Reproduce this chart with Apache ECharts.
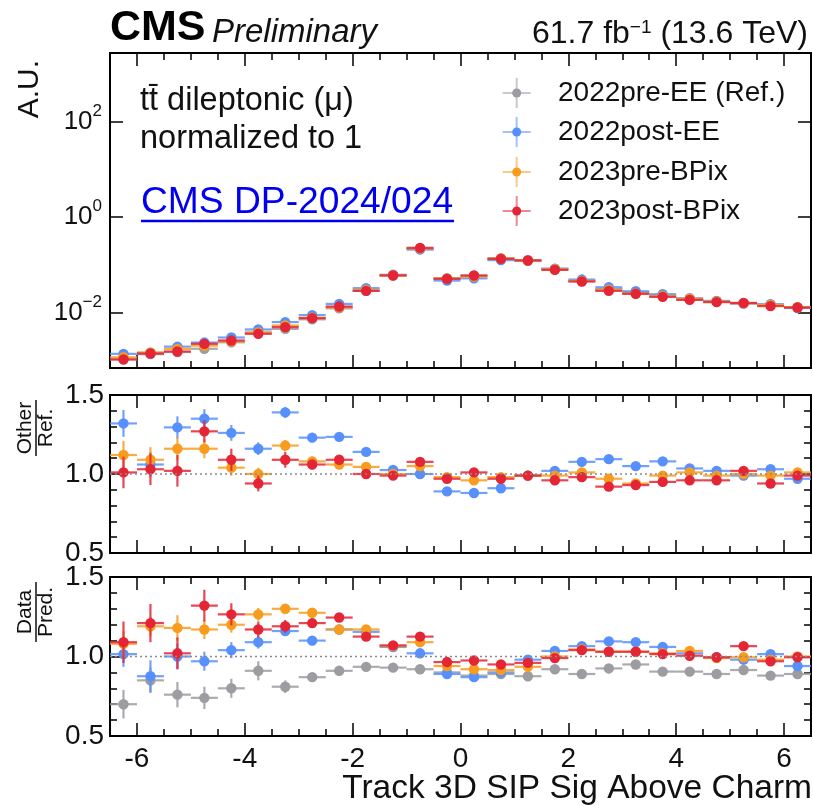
<!DOCTYPE html>
<html><head><meta charset="utf-8">
<script src="https://cdn.jsdelivr.net/npm/echarts@6/dist/echarts.min.js"></script>
<style>html,body{margin:0;padding:0;background:#fff}#c{width:813px;height:806px}</style>
</head><body><div id="c"></div><script>
const FONT = 'Liberation Sans, Arial, Helvetica, sans-serif';

// ---------------- data ----------------
const binCenters = [-6.25,-5.75,-5.25,-4.75,-4.25,-3.75,-3.25,-2.75,-2.25,-1.75,-1.25,-0.75,-0.25,
                    0.25,0.75,1.25,1.75,2.25,2.75,3.25,3.75,4.25,4.75,5.25,5.75,6.25];
const seriesNames = ['2022pre-EE (Ref.)','2022post-EE','2023pre-BPix','2023post-BPix'];
const colors = ['#9c9ca1','#5790fc','#f89c20','#e42536'];

// top panel: normalized distributions
const topRef    = [0.00104,0.00135,0.00150,0.00175,0.00239,0.00383,0.00456,0.00723,0.0123,0.0286,0.0606,0.212,0.0527,0.0594,0.138,0.125,0.0820,0.0458,0.0311,0.0267,0.0225,0.0193,0.0173,0.0157,0.0146,0.0129];
const topPostEE = [0.00137,0.00143,0.00194,0.00236,0.00301,0.00444,0.00634,0.00889,0.0152,0.0326,0.0621,0.212,0.0469,0.0523,0.126,0.124,0.0836,0.0493,0.0340,0.0280,0.0243,0.0200,0.0176,0.0155,0.0150,0.0125];
const topPreBPix= [0.00116,0.00147,0.00174,0.00203,0.00249,0.00383,0.00538,0.00781,0.0130,0.0299,0.0606,0.223,0.0516,0.0570,0.135,0.124,0.0812,0.0463,0.0302,0.0251,0.0223,0.0195,0.0171,0.0157,0.0145,0.0130];
const topPostBPix=[0.00105,0.00139,0.00153,0.00222,0.00261,0.00360,0.00497,0.00766,0.0134,0.0286,0.0600,0.228,0.0511,0.0600,0.134,0.124,0.0787,0.0449,0.0286,0.0248,0.0214,0.0185,0.0166,0.0160,0.0137,0.0128];

// middle panel: Other / Ref.
const midPostEE   = [1.32,1.06,1.295,1.35,1.26,1.16,1.39,1.23,1.235,1.14,1.025,1.0,0.89,0.88,0.91,0.99,1.02,1.077,1.094,1.05,1.08,1.035,1.02,0.99,1.03,0.97];
const midPreBPix  = [1.12,1.09,1.16,1.16,1.04,1.00,1.18,1.08,1.06,1.045,1.0,1.05,0.98,0.96,0.98,0.99,0.99,1.01,0.97,0.94,0.99,1.01,0.99,1.0,0.99,1.01];
const midPostBPix = [1.01,1.03,1.02,1.27,1.09,0.94,1.09,1.06,1.09,1.00,0.99,1.077,0.97,1.01,0.97,0.99,0.96,0.98,0.92,0.93,0.95,0.96,0.96,1.02,0.94,0.99];
const midErrPostEE   = [0.085,0.08,0.07,0.06,0.05,0.04,0.035,0.03,0.025,0.02,0.015,0.012,0.01,0.01,0.01,0.01,0.01,0.01,0.01,0.01,0.01,0.01,0.01,0.01,0.01,0.01];
const midErrPreBPix  = [0.09,0.08,0.07,0.06,0.05,0.04,0.035,0.03,0.025,0.02,0.015,0.012,0.01,0.01,0.01,0.01,0.01,0.01,0.01,0.01,0.01,0.01,0.01,0.01,0.01,0.01];
const midErrPostBPix = [0.1,0.1,0.1,0.07,0.07,0.05,0.05,0.03,0.03,0.02,0.02,0.015,0.012,0.012,0.012,0.012,0.012,0.012,0.012,0.012,0.012,0.012,0.012,0.012,0.012,0.012];

// bottom panel: Data / Pred.
const botRef      = [0.70,0.85,0.76,0.74,0.80,0.91,0.81,0.87,0.91,0.935,0.93,0.92,0.90,0.88,0.89,0.876,0.92,0.89,0.925,0.95,0.905,0.905,0.89,0.915,0.88,0.89];
const botPostEE   = [1.015,0.876,1.0,0.97,1.04,1.09,1.16,1.10,1.17,1.155,1.06,1.02,0.89,0.87,0.90,0.98,1.035,1.065,1.095,1.09,1.06,1.02,0.995,0.98,1.015,0.94];
const botPreBPix  = [1.08,1.19,1.18,1.17,1.20,1.265,1.30,1.275,1.17,1.17,1.065,1.09,0.94,0.92,0.915,0.935,1.0,1.045,1.03,1.03,1.02,1.035,0.99,0.995,0.98,1.0];
const botPostBPix = [1.09,1.21,1.02,1.32,1.265,1.17,1.19,1.21,1.245,1.125,1.07,1.125,0.965,0.975,0.95,0.96,0.99,1.04,1.03,1.03,1.015,1.005,0.995,1.065,0.97,0.995];
const botErrRef      = [0.09,0.08,0.08,0.07,0.06,0.06,0.04,0.03,0.03,0.02,0.02,0.02,0.02,0.015,0.015,0.015,0.015,0.015,0.015,0.015,0.015,0.015,0.015,0.015,0.015,0.015];
const botErrPostEE   = [0.08,0.1,0.08,0.06,0.05,0.04,0.03,0.025,0.02,0.02,0.015,0.015,0.012,0.012,0.012,0.012,0.012,0.012,0.012,0.012,0.012,0.012,0.012,0.012,0.012,0.012];
const botErrPreBPix  = [0.08,0.06,0.08,0.06,0.05,0.04,0.03,0.025,0.02,0.02,0.015,0.015,0.012,0.012,0.012,0.012,0.012,0.012,0.012,0.012,0.012,0.012,0.012,0.012,0.012,0.012];
const botErrPostBPix = [0.13,0.12,0.1,0.1,0.07,0.05,0.04,0.03,0.025,0.02,0.02,0.015,0.015,0.015,0.015,0.015,0.015,0.015,0.015,0.015,0.015,0.015,0.015,0.015,0.015,0.015];

// ticks
const xMajorTicks = [-6,-4,-2,0,2,4,6];
const xMinorTicks = [-6,-5.5,-5,-4.5,-4,-3.5,-3,-2.5,-2,-1.5,-1,-0.5,0,0.5,1,1.5,2,2.5,3,3.5,4,4.5,5,5.5,6];
const topYTicks = [-2,0,2];          // exponents of 10
const ratioMajorTicks = [0.5,1.0,1.5];
const ratioMinorTicks = [0.6,0.7,0.8,0.9,1.1,1.2,1.3,1.4];

// ---------------- layout ----------------
const grids = [
  {left:110, top:53,  width:701, height:315},
  {left:110, top:395, width:701, height:158},
  {left:110, top:577, width:701, height:159}
].map(g => Object.assign(g, {show:true, borderColor:'#000', borderWidth:2, backgroundColor:'transparent', outerBoundsMode:'none'}));

const tickStyle = {color:'#000', width:1.5};
function xAxesFor(gi){
  const base = {gridIndex:gi, type:'value', min:-6.5, max:6.5, axisLine:{show:false, onZero:false}, splitLine:{show:false}};
  const mk = (pos, len, vals, lbl) => Object.assign({}, base, {
    position:pos,
    axisTick:{show:true, inside:true, length:len, customValues:vals, lineStyle:tickStyle},
    axisLabel: lbl ? {show:true, customValues:xMajorTicks, fontSize:28, color:'#111', fontFamily:FONT, margin:9,
                      formatter: v => (v < 0 ? '-' + (-v) : String(v))} : {show:false}
  });
  return [mk('bottom',13,xMajorTicks, gi===2), mk('bottom',7,xMinorTicks,false), mk('top',13,xMajorTicks,false), mk('top',7,xMinorTicks,false)];
}
function yAxesFor(gi, min, max, major, minor, label){
  const base = {gridIndex:gi, type:'value', min:min, max:max, axisLine:{show:false, onZero:false}, splitLine:{show:false}};
  const mk = (pos, len, vals, lbl) => Object.assign({}, base, {
    position:pos,
    axisTick:{show:vals.length>0, inside:true, length:len, customValues:vals.length?vals:undefined, lineStyle:tickStyle},
    axisLabel: lbl ? Object.assign({show:true, customValues:major, color:'#111', fontFamily:FONT}, label) : {show:false}
  });
  return [mk('left',13,major,true), mk('left',7,minor,false), mk('right',13,major,false), mk('right',7,minor,false)];
}

const xAxes = [].concat(xAxesFor(0), xAxesFor(1), xAxesFor(2));
const yAxes = [].concat(
  yAxesFor(0, -3.16, 3.44, topYTicks, [], {
    margin:8,
    formatter: v => { const e = Math.round(v); return '{b|10}{s|' + (e < 0 ? '\u2212' + (-e) : e) + '}'; },
    rich:{ b:{fontSize:26, fontFamily:FONT, color:'#111', lineHeight:38}, s:{fontSize:17, fontFamily:FONT, color:'#111', verticalAlign:'top', lineHeight:20} }
  }),
  yAxesFor(1, 0.5, 1.5, ratioMajorTicks, ratioMinorTicks, {fontSize:28, margin:6, formatter: v => v.toFixed(1)}),
  yAxesFor(2, 0.5, 1.5, ratioMajorTicks, ratioMinorTicks, {fontSize:28, margin:6, formatter: v => v.toFixed(1)})
);

function errRender(color){
  return function(params, api){
    const x = api.value(0), y = api.value(1), e = api.value(2);
    const pL = api.coord([x - 0.25, y]), pR = api.coord([x + 0.25, y]);
    const c = api.coord([x, y]);
    const children = [
      {type:'line', shape:{x1:pL[0], y1:pL[1], x2:pR[0], y2:pR[1]}, style:{stroke:color, lineWidth:2.2, opacity:0.85}}
    ];
    if (e > 0) {
      const pT = api.coord([x, y + e]), pB = api.coord([x, y - e]);
      children.push({type:'line', shape:{x1:pT[0], y1:pT[1], x2:pB[0], y2:pB[1]}, style:{stroke:color, lineWidth:2.2, opacity:0.85}});
    }
    children.push({type:'circle', shape:{cx:c[0], cy:c[1], r:5.2}, style:{fill:color}});
    return {type:'group', children:children};
  };
}
function mkSeries(name, gi, ci, vals, errs, isLog){
  return {
    name:name, type:'custom', xAxisIndex:4*gi, yAxisIndex:4*gi, clip:true,
    renderItem: errRender(colors[ci]),
    data: vals.map((v, i) => [binCenters[i], isLog ? Math.log10(v) : v, errs ? errs[i] : 0])
  };
}
function unityLine(gi){
  return {type:'line', xAxisIndex:4*gi, yAxisIndex:4*gi, data:[[-6.5,1],[6.5,1]], symbol:'none', silent:true,
          lineStyle:{color:'#8a8a8a', width:1.6, type:[2,3]}};
}

const series = [
  mkSeries(seriesNames[0], 0, 0, topRef, null, true),
  mkSeries(seriesNames[1], 0, 1, topPostEE, null, true),
  mkSeries(seriesNames[2], 0, 2, topPreBPix, null, true),
  mkSeries(seriesNames[3], 0, 3, topPostBPix, null, true),
  unityLine(1),
  mkSeries(seriesNames[1], 1, 1, midPostEE, midErrPostEE, false),
  mkSeries(seriesNames[2], 1, 2, midPreBPix, midErrPreBPix, false),
  mkSeries(seriesNames[3], 1, 3, midPostBPix, midErrPostBPix, false),
  unityLine(2),
  mkSeries(seriesNames[0], 2, 0, botRef, botErrRef, false),
  mkSeries(seriesNames[1], 2, 1, botPostEE, botErrPostEE, false),
  mkSeries(seriesNames[2], 2, 2, botPreBPix, botErrPreBPix, false),
  mkSeries(seriesNames[3], 2, 3, botPostBPix, botErrPostBPix, false)
];

// ---------------- annotations ----------------
const txt = (x, y, text, extra) => ({type:'text', x:x, y:y, z:100,
  style:Object.assign({text:text, fontFamily:FONT, fill:'#111', align:'left', verticalAlign:'middle'}, extra)});
const legendY = [93, 132, 172, 211];
const graphic = [
  txt(110, 28.5, 'CMS', {fontSize:43, fontWeight:'bold', fill:'#000'}),
  txt(212, 32.5, 'Preliminary', {fontSize:33, fontStyle:'italic'}),
  txt(808, 34, '61.7 fb{s|\u22121} (13.6 TeV)', {fontSize:32,  align:'right',
      rich:{s:{fontSize:19, fontFamily:FONT, fill:'#111', verticalAlign:'top', lineHeight:20}}}),
  Object.assign(txt(30, 60, 'A.U.', {fontSize:30, align:'right'}), {rotation:Math.PI/2}),
  txt(140, 101, 't\u0074\u0304 dileptonic (\u03bc)', {fontSize:32.5}),
  txt(140, 139, 'normalized to 1', {fontSize:32.5}),
  txt(141, 203, 'CMS DP-2024/024', {fontSize:37.2, fill:'#0000ee'}),
  {type:'line', z:100, shape:{x1:141, y1:221, x2:454, y2:221}, style:{stroke:'#0000ee', lineWidth:2.5}},
  Object.assign(txt(25, 428, 'Other', {fontSize:21, align:'center'}), {rotation:Math.PI/2}),
  Object.assign(txt(46, 428, 'Ref.', {fontSize:21, align:'center'}), {rotation:Math.PI/2}),
  {type:'line', z:100, shape:{x1:36, y1:400, x2:36, y2:456}, style:{stroke:'#111', lineWidth:1.5}},
  Object.assign(txt(25, 612, 'Data', {fontSize:21, align:'center'}), {rotation:Math.PI/2}),
  Object.assign(txt(46, 612, 'Pred.', {fontSize:21, align:'center'}), {rotation:Math.PI/2}),
  {type:'line', z:100, shape:{x1:36, y1:582, x2:36, y2:642}, style:{stroke:'#111', lineWidth:1.5}},
  txt(812, 789, 'Track 3D SIP Sig Above Charm', {fontSize:33.5, align:'right'})
];
seriesNames.forEach((n, i) => {
  const y = legendY[i], x = 516.7, c = colors[i];
  graphic.push({type:'line', z:100, shape:{x1:x, y1:y-15, x2:x, y2:y+15}, style:{stroke:c, lineWidth:2, opacity:0.55}});
  graphic.push({type:'line', z:100, shape:{x1:x-14, y1:y, x2:x+14, y2:y}, style:{stroke:c, lineWidth:2, opacity:0.55}});
  graphic.push({type:'circle', z:101, shape:{cx:x, cy:y, r:4.5}, style:{fill:c}});
  graphic.push(txt(558, y, n, {fontSize:28}));
});

const chart = echarts.init(document.getElementById('c'), null, {renderer:'canvas'});
chart.setOption({
  animation:false,
  backgroundColor:'#fff',
  grid:grids,
  xAxis:xAxes,
  yAxis:yAxes,
  series:series,
  graphic:graphic
});
</script></body></html>
